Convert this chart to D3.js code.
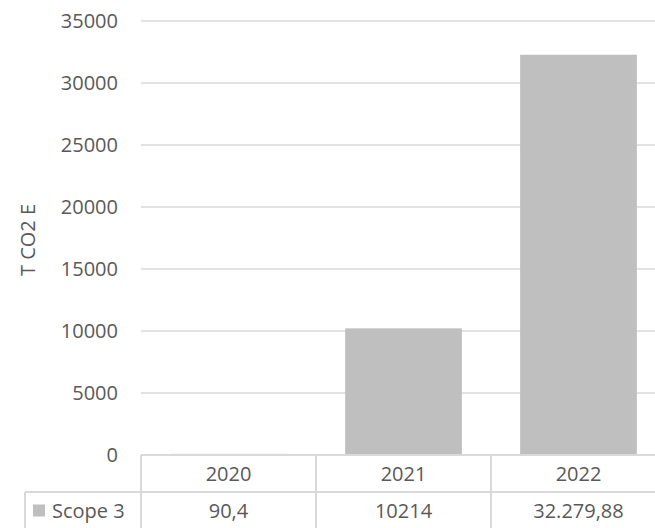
<!DOCTYPE html>
<html><head><meta charset="utf-8">
<script src="https://cdn.jsdelivr.net/npm/d3@7"></script>
<style>body{margin:0;background:#fff;} svg{display:block;}</style>
</head><body>
<script>
const categories = ["2020", "2021", "2022"];
const seriesName = "Scope 3";
const values = [90.4, 10214, 32279.88];
const valueLabels = ["90,4", "10214", "32.279,88"];
const yTicks = [0, 5000, 10000, 15000, 20000, 25000, 30000, 35000];
const yTitle = "T CO2 E";

(function () {
const W = 655, H = 528;
const mLeft = 141, mRight = 666, mTop = 21, mBottom = 455;
const rowH = 37;
const font = "'Open Sans', sans-serif";
const txt = "#595959", grid = "#d9d9d9", barFill = "#bfbfbf";

const svg = d3.select("body").append("svg").attr("width", W).attr("height", H);

const x = d3.scaleBand().domain(categories).range([mLeft, mRight]).paddingInner(0.333).paddingOuter(0.1665);
const xCell = d3.scaleBand().domain(categories).range([mLeft, mRight]);
const y = d3.scaleLinear().domain([0, 35000]).range([mBottom, mTop]);

// gridlines
svg.append("g").selectAll("line").data(yTicks.filter(d => d > 0)).join("line")
  .attr("x1", mLeft).attr("x2", mRight)
  .attr("y1", d => y(d)).attr("y2", d => y(d))
  .attr("stroke", grid).attr("stroke-width", 1.3);

// bars
svg.append("g").selectAll("rect").data(values).join("rect")
  .attr("x", (d, i) => x(categories[i]))
  .attr("width", x.bandwidth())
  .attr("y", d => y(d))
  .attr("height", d => mBottom - y(d))
  .attr("fill", barFill);

// y axis labels
const yAxis = d3.axisLeft(y).tickValues(yTicks).tickSize(0).tickPadding(23).tickFormat(d3.format("d"));
const ga = svg.append("g").attr("transform", `translate(${mLeft},0)`).call(yAxis);
ga.select(".domain").remove();
ga.selectAll("text").attr("font-family", font).attr("font-size", 20).attr("fill", txt).attr("dy", "0.32em");

// y title
svg.append("text").attr("transform", `translate(35,${(mTop + mBottom) / 2 + 2}) rotate(-90)`)
  .attr("text-anchor", "middle").attr("font-family", font).attr("font-size", 20).attr("fill", txt)
  .text(yTitle);

// data table
const tg = svg.append("g").attr("stroke", grid).attr("stroke-width", 2);
tg.append("line").attr("x1", mLeft).attr("x2", mRight).attr("y1", mBottom).attr("y2", mBottom);
tg.append("line").attr("x1", 25).attr("x2", mRight).attr("y1", mBottom + rowH).attr("y2", mBottom + rowH);
tg.append("line").attr("x1", 25).attr("x2", mRight).attr("y1", mBottom + 2 * rowH).attr("y2", mBottom + 2 * rowH);
tg.append("line").attr("x1", 25).attr("x2", 25).attr("y1", mBottom + rowH).attr("y2", mBottom + 2 * rowH);
tg.selectAll("line.v").data(categories.concat(["end"])).join("line").attr("class", "v")
  .attr("x1", (d, i) => i < categories.length ? xCell(d) : mRight)
  .attr("x2", (d, i) => i < categories.length ? xCell(d) : mRight)
  .attr("y1", mBottom).attr("y2", mBottom + 2 * rowH);

svg.append("g").selectAll("text").data(categories).join("text")
  .attr("x", d => xCell(d) + xCell.bandwidth() / 2)
  .attr("y", mBottom + rowH / 2).attr("dy", "0.35em")
  .attr("text-anchor", "middle").attr("font-family", font).attr("font-size", 20).attr("fill", txt)
  .text(d => d);

svg.append("g").selectAll("text").data(valueLabels).join("text")
  .attr("x", (d, i) => xCell(categories[i]) + xCell.bandwidth() / 2)
  .attr("y", mBottom + rowH * 1.5).attr("dy", "0.35em")
  .attr("text-anchor", "middle").attr("font-family", font).attr("font-size", 20).attr("fill", txt)
  .text(d => d);

svg.append("rect").attr("x", 33).attr("y", mBottom + rowH * 1.5 - 6).attr("width", 12).attr("height", 12).attr("fill", barFill);
svg.append("text").attr("x", 52).attr("y", mBottom + rowH * 1.5).attr("dy", "0.35em")
  .attr("font-family", font).attr("font-size", 20).attr("fill", txt).text(seriesName);
})();
</script>
</body></html>
